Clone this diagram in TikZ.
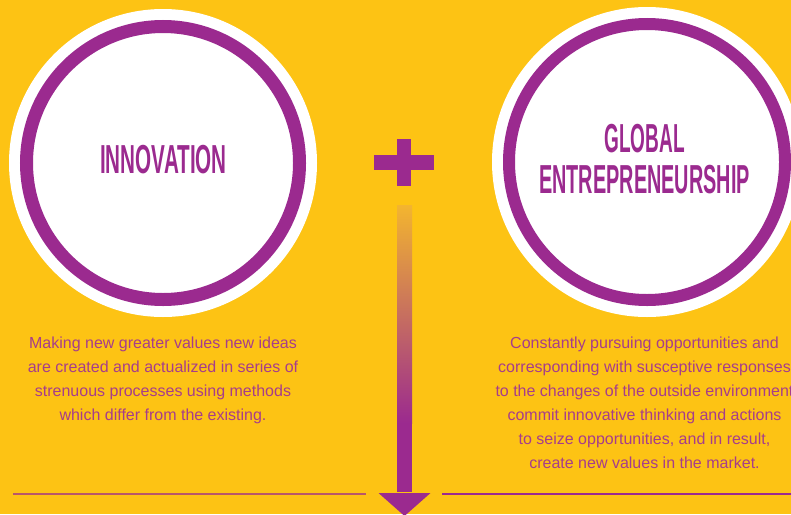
\documentclass[tikz,border=0pt]{standalone}
\usepackage{fontspec}
\setmainfont{Liberation Sans}
\definecolor{bgyellow}{HTML}{FDC314}
\definecolor{mypurple}{HTML}{9B2A8F}
\definecolor{txtpurple}{HTML}{A63D8B}
\definecolor{shafttop}{HTML}{F3B52F}
\tikzset{
  bigcircle/.style={circle, fill=white, inner sep=0pt, minimum size=#1},
  ring/.style={draw=mypurple, line width=13pt},
  title/.style={text=mypurple, font=\fontsize{40.5}{41}\selectfont\bfseries, align=center, inner sep=0pt},
  para/.style={text=txtpurple, font=\fontsize{16}{24}\selectfont, align=center, inner sep=0pt},
  rule/.style={draw=mypurple, line width=2pt},
}
\begin{document}
\begin{tikzpicture}[x=1pt,y=-1pt]
\useasboundingbox (0,0) rectangle (791,514);
\fill[bgyellow] (0,0) rectangle (791,514);
\begin{scope}
\clip (0,0) rectangle (791,514);
% circles
\node[bigcircle=308pt] (innov) at (163,163) {};
\draw[ring] (innov.center) circle (136.5);
\node[bigcircle=310pt] (glob) at (647,162) {};
\draw[ring, line width=12pt] (glob.center) circle (138);
% titles
\node[title, anchor=base] (innovtitle) at (163.5,173) {\scalebox{0.51}[1]{INNOVATION}};
\node[title, anchor=base] (globtitle1) at (644.5,152) {\scalebox{0.47}[1]{GLOBAL}};
\node[title, anchor=base] (globtitle2) at (644.5,193) {\scalebox{0.49}[1]{ENTREPRENEURSHIP}};
% plus sign
\node[inner sep=0pt] (plus) at (404,162.5) {};
\fill[mypurple] ([xshift=-30,yshift=-7.5]plus.center) rectangle ([xshift=30,yshift=7.5]plus.center);
\fill[mypurple] ([xshift=-7,yshift=-23.5]plus.center) rectangle ([xshift=7,yshift=23.5]plus.center);
% arrow
\coordinate (shaftstart) at (404.5,205);
\coordinate (shaftmid) at (404.5,423);
\coordinate (headbase) at (404.5,493);
\coordinate (tip) at (404.5,516);
\shade[top color=shafttop, bottom color=mypurple] ([xshift=-7.5]shaftstart) rectangle ([xshift=7.5]shaftmid);
\fill[mypurple] ([xshift=-7.5]shaftmid) rectangle ([xshift=7.5,yshift=1]headbase);
\fill[mypurple] ([xshift=-26]headbase) -- ([xshift=26]headbase) -- (tip) -- cycle;
% rules
\coordinate (l1) at (13,494);
\coordinate (l2) at (366,494);
\coordinate (r1) at (442,493.5);
\coordinate (r2) at (795,493.5);
\draw[rule, draw opacity=0.7] (l1) -- (l2);
\draw[rule] (r1) -- (r2);
% paragraphs
\node[para, anchor=north] (innovtext) at (163,337) {Making new greater values new ideas\\are created and actualized in series of\\strenuous processes using methods\\which differ from the existing.};
\node[para, anchor=north] (globtext) at (644.5,337) {Constantly pursuing opportunities and\\corresponding with susceptive responses\\to the changes of the outside environment\\commit innovative thinking and actions\\to seize opportunities, and in result,\\create new values in the market.};
\end{scope}
\end{tikzpicture}
\end{document}
